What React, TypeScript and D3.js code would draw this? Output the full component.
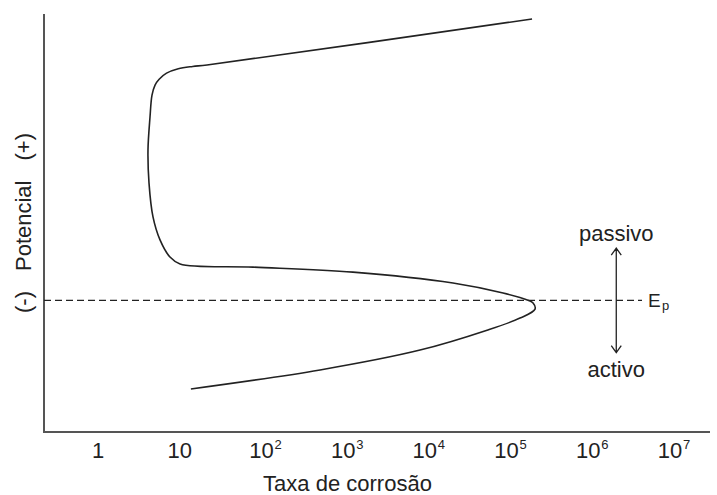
import { useEffect, useRef } from 'react'
import * as d3 from 'd3'

// polarisation curve, traced from the active end (bottom) to the transpassive end (top)
const rates = [13.7, 522, 8730, 57700, 146000, 223000, 211000, 183000, 90600, 22100, 1320, 78.9, 10.1, 7.6, 5.74, 4.71, 4.21, 4.09, 4.33, 4.58, 4.99, 5.6, 6.9, 9.6, 14.4, 21.6, 205000]
const potentials = [-0.424, -0.333, -0.238, -0.143, -0.085, -0.042, -0.013, 0.0, 0.035, 0.083, 0.135, 0.159, 0.174, 0.207, 0.289, 0.399, 0.561, 0.719, 0.877, 0.982, 1.03, 1.058, 1.087, 1.108, 1.119, 1.126, 1.346]

const tickExponents = [0, 1, 2, 3, 4, 5, 6, 7]
const yLabelParts = ['(-)', 'Potencial', '(+)']
const xLabel = 'Taxa de corrosão'

const ep = 0
const arrowRate = 2.2e6
const arrowTop = 0.25
const arrowBottom = -0.25

function App() {
    const ref = useRef<SVGSVGElement>(null)

    useEffect(() => {
        const width = 717
        const height = 495
        const frame = { left: 44, right: 710, top: 14, bottom: 432 }
        const font = '"Liberation Sans", Arial, sans-serif'
        const ink = '#222'

        const svg = d3.select(ref.current)
        svg.selectAll('*').remove()
        svg.attr('width', width).attr('height', height)

        const xScale = d3.scaleLog().domain([1, 1e7]).range([98, 670])
        const yScale = d3.scaleLinear().domain([-0.63, 1.37]).range([frame.bottom, frame.top])

        // axes (no ticks, just the lines)
        svg.append('path')
            .attr('d', `M${frame.left},${frame.top}V${frame.bottom}H${frame.right}`)
            .style('fill', 'none')
            .style('stroke', '#555')
            .style('stroke-width', 2)

        // tick labels
        const ticks = svg.append('g')
            .style('font-family', font)
            .style('fill', ink)
        tickExponents.forEach(e => {
            const x = xScale(Math.pow(10, e))
            ticks.append('text')
                .attr('x', x)
                .attr('y', 458)
                .attr('text-anchor', 'middle')
                .style('font-size', '22px')
                .text(e === 0 ? '1' : '10')
            if (e > 1) {
                ticks.append('text')
                    .attr('x', x + 13)
                    .attr('y', 449)
                    .style('font-size', '13px')
                    .text(String(e))
            }
        })

        svg.append('text')
            .attr('x', (260 + 435) / 2)
            .attr('y', 491)
            .attr('text-anchor', 'middle')
            .style('font-family', font)
            .style('font-size', '22px')
            .style('fill', ink)
            .text(xLabel)

        const yLabel = svg.append('text')
            .attr('transform', `translate(31, ${(frame.top + frame.bottom) / 2}) rotate(-90)`)
            .attr('text-anchor', 'middle')
            .style('font-family', font)
            .style('font-size', '22px')
            .style('fill', ink)
        yLabelParts.forEach((t, i) => {
            yLabel.append('tspan')
                .attr('dx', i === 0 ? 0 : 20)
                .text(t)
        })

        // Ep dashed line
        svg.append('line')
            .attr('x1', frame.left)
            .attr('x2', 642)
            .attr('y1', yScale(ep))
            .attr('y2', yScale(ep))
            .style('stroke', ink)
            .style('stroke-width', 1.3)
            .style('stroke-dasharray', '7,4')

        svg.append('text')
            .attr('x', 648)
            .attr('y', yScale(ep) + 7)
            .style('font-family', font)
            .style('font-size', '19px')
            .style('fill', ink)
            .text('E')
        svg.append('text')
            .attr('x', 662)
            .attr('y', yScale(ep) + 10)
            .style('font-family', font)
            .style('font-size', '13px')
            .style('fill', ink)
            .text('p')

        // the curve
        const data = rates.map((r, i) => ({ x: r, y: potentials[i] }))
        const path = d3.line<{ x: number, y: number }>()
            .x(d => xScale(d.x))
            .y(d => yScale(d.y))
            .curve(d3.curveCatmullRom.alpha(0.5))

        svg.append('path')
            .datum(data)
            .attr('d', path)
            .style('fill', 'none')
            .style('stroke', ink)
            .style('stroke-width', 1.6)

        // double arrow passivo / activo
        const ax = xScale(arrowRate)
        const y1 = yScale(arrowTop)
        const y2 = yScale(arrowBottom)
        svg.append('path')
            .attr('d', `M${ax},${y1}V${y2}M${ax - 5},${y1 + 7}L${ax},${y1}L${ax + 5},${y1 + 7}M${ax - 5},${y2 - 7}L${ax},${y2}L${ax + 5},${y2 - 7}`)
            .style('fill', 'none')
            .style('stroke', ink)
            .style('stroke-width', 1.3)

        svg.append('text')
            .attr('x', ax)
            .attr('y', y1 - 7)
            .attr('text-anchor', 'middle')
            .style('font-family', font)
            .style('font-size', '22px')
            .style('fill', ink)
            .text('passivo')

        svg.append('text')
            .attr('x', ax)
            .attr('y', y2 + 24)
            .attr('text-anchor', 'middle')
            .style('font-family', font)
            .style('font-size', '22px')
            .style('fill', ink)
            .text('activo')
    })

    return (
        <svg ref={ref} style={{ position: 'absolute', left: 0, top: 0 }} />
    )
}

export default App
